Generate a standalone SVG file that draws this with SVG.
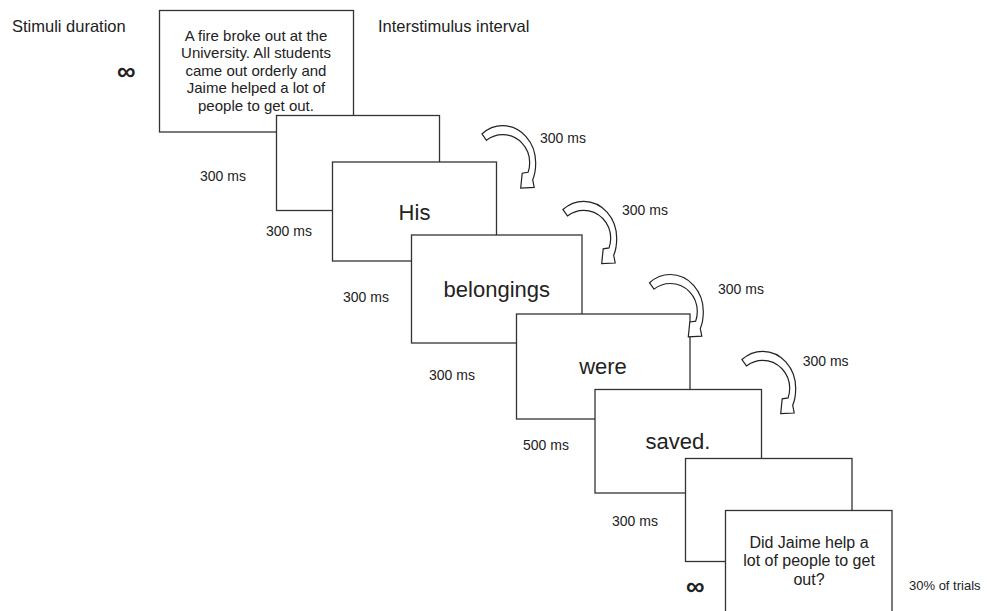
<svg xmlns="http://www.w3.org/2000/svg" xmlns:xlink="http://www.w3.org/1999/xlink" width="987" height="611" viewBox="0 0 987 611">
<style>
.box{fill:#fff;stroke:#333;stroke-width:1.3}
.t{font-family:"Liberation Sans",Arial,sans-serif;fill:#222}
.hd{font-size:16.5px}
.lb{font-size:14px}
.big{font-size:22px;text-anchor:middle}
.st{font-size:15px;text-anchor:middle}
.q{font-size:16px;text-anchor:middle}
.inf{font-family:"Liberation Sans",Arial,sans-serif;font-size:26px;font-weight:bold;fill:#222}
.arr{fill:#fff;stroke:#222;stroke-width:1.2;stroke-linejoin:miter}
</style>
<defs>
<path id="carrow" class="arr" d="M0.23,1.25 C6.1,-4.1 13.45,-7 21,-7 C39.2,-7 54,9.6 54,30 C54,35.6 53.2,42 51,47 L52.5,54.7 L39,55.3 L40.5,40.5 L46.4,39.6 C47.5,36.5 48,33.3 48,30 C48,14.5 35.9,2 21,2 C15.1,2 9.43,3.98 4.75,7.64 Z"/>
</defs>
<g id="headers">
<text class="t hd" x="12" y="31.5">Stimuli duration</text>
<text class="t hd" x="378" y="31.5">Interstimulus interval</text>
<text class="inf" x="117" y="80">∞</text>
</g>
<g id="node1">
<rect class="box" x="159.5" y="10.5" width="194" height="121.5"/>
<text class="t st" x="256" y="40.5">A fire broke out at the</text>
<text class="t st" x="256" y="58">University. All students</text>
<text class="t st" x="256" y="75.5">came out orderly and</text>
<text class="t st" x="256" y="93">Jaime helped a lot of</text>
<text class="t st" x="256" y="110.5">people to get out.</text>
</g>
<g id="node2">
<rect class="box" x="276.5" y="115.5" width="163" height="95"/>
</g>
<g id="node3">
<rect class="box" x="332.5" y="162" width="164" height="99"/>
<text class="t big" x="414.5" y="220">His</text>
</g>
<g id="node4">
<rect class="box" x="411.5" y="235" width="170.5" height="108"/>
<text class="t big" x="496.8" y="297">belongings</text>
</g>
<g id="node5">
<rect class="box" x="516.5" y="314" width="173.5" height="105"/>
<text class="t big" x="603" y="374">were</text>
</g>
<g id="node6">
<rect class="box" x="595" y="389.5" width="166.5" height="103.5"/>
<text class="t big" x="678" y="449">saved.</text>
</g>
<g id="node7">
<rect class="box" x="685.5" y="458.5" width="166.5" height="103"/>
</g>
<g id="node8">
<rect class="box" x="725.5" y="510.5" width="166.5" height="110"/>
<text class="t q" x="809" y="547.5">Did Jaime help a</text>
<text class="t q" x="809" y="566">lot of people to get</text>
<text class="t q" x="809" y="584.5">out?</text>
</g>
<g id="connectors">
<use xlink:href="#carrow" transform="translate(481.7,132.7)"/>
<use xlink:href="#carrow" transform="translate(562.7,208.3)"/>
<use xlink:href="#carrow" transform="translate(649.3,281.5)"/>
<use xlink:href="#carrow" transform="translate(741.7,358.3)"/>
</g>
<g id="labels">
<text class="t lb" x="200" y="180.7">300 ms</text>
<text class="t lb" x="266" y="236">300 ms</text>
<text class="t lb" x="343" y="301.7">300 ms</text>
<text class="t lb" x="429" y="380">300 ms</text>
<text class="t lb" x="523" y="450">500 ms</text>
<text class="t lb" x="612" y="526">300 ms</text>
<text class="t lb" x="540" y="142.7">300 ms</text>
<text class="t lb" x="622" y="215">300 ms</text>
<text class="t lb" x="718" y="294">300 ms</text>
<text class="t lb" x="802.7" y="366">300 ms</text>
<text class="inf" x="686" y="595">∞</text>
<text class="t" style="font-size:13px" x="909" y="590">30% of trials</text>
</g>
</svg>
